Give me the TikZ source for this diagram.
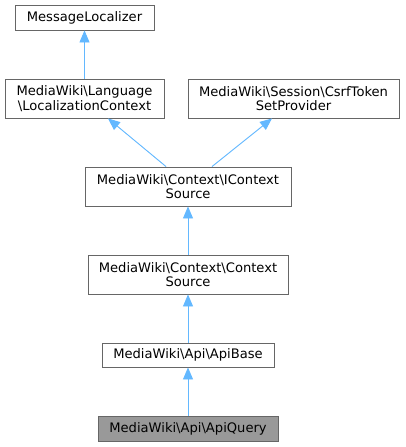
\documentclass[tikz,border=0pt]{standalone}
\usepackage{fontspec}
\setmainfont{DejaVu Sans}
\usetikzlibrary{arrows.meta}
\definecolor{edgeblue}{HTML}{63B8FF}
\definecolor{boxborder}{HTML}{666666}
\definecolor{curfill}{HTML}{999999}
\tikzset{
  cls/.style={draw=boxborder, line width=0.9pt, fill=white, align=center, inner sep=0pt,
    font=\fontsize{13.1pt}{14.5pt}\selectfont},
  inh/.style={draw=edgeblue, line width=0.9pt, -{Triangle[length=12pt,width=10pt]}, fill=edgeblue}
}
\begin{document}
\begin{tikzpicture}[x=1pt,y=-1pt]
\useasboundingbox (0,0) rectangle (405,447);
\node[cls, minimum width=139pt, minimum height=25pt] (ml) at (84.5,17.5) {MessageLocalizer};
\node[cls, minimum width=159pt, minimum height=39pt] (lc) at (84.5,98.5) {MediaWiki\textbackslash Language\\\textbackslash LocalizationContext};
\node[cls, minimum width=211pt, minimum height=39pt] (cs) at (293.5,98.5) {MediaWiki\textbackslash Session\textbackslash CsrfToken\\SetProvider};
\node[cls, minimum width=206pt, minimum height=39pt] (ic) at (188,186.5) {MediaWiki\textbackslash Context\textbackslash IContext\\Source};
\node[cls, minimum width=200pt, minimum height=39pt] (cx) at (188,274.5) {MediaWiki\textbackslash Context\textbackslash Context\\Source};
\node[cls, minimum width=172pt, minimum height=24pt] (ab) at (188,355) {MediaWiki\textbackslash Api\textbackslash ApiBase};
\node[cls, fill=curfill, minimum width=180pt, minimum height=25pt] (aq) at (188,428.5) {MediaWiki\textbackslash Api\textbackslash ApiQuery};
\draw[inh] (lc.north) -- (ml.south);
\draw[inh] ([xshift=-22pt]ic.north) -- ([xshift=23.5pt]lc.south);
\draw[inh] ([xshift=24pt]ic.north) -- ([xshift=-21.5pt]cs.south);
\draw[inh] (cx.north) -- (ic.south);
\draw[inh] (ab.north) -- (cx.south);
\draw[inh] (aq.north) -- (ab.south);
\end{tikzpicture}
\end{document}
